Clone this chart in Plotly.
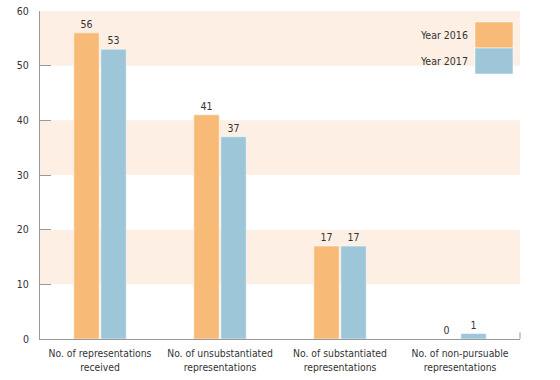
import plotly.graph_objects as go

categories = ["No. of representations<br>received", "No. of unsubstantiated<br>representations",
              "No. of substantiated<br>representations", "No. of non-pursuable<br>representations"]
series_names = ["Year 2016", "Year 2017"]
values_2016 = [56, 41, 17, 0]
values_2017 = [53, 37, 17, 1]
y_ticks = [0, 10, 20, 30, 40, 50, 60]
band_ranges = [(10, 20), (30, 40), (50, 60)]

colors = ["#f7bb77", "#9dc7d9"]
font_family = "DejaVu Sans Condensed, Liberation Sans Narrow, Roboto, sans-serif"
text_color = "#333333"
fs = 10

fig = go.Figure()
for name, vals, col in zip(series_names, [values_2016, values_2017], colors):
    fig.add_trace(go.Bar(
        x=categories, y=vals, name=name, marker=dict(color=col, line=dict(color="white", width=0.5)),
        text=[str(v) for v in vals], textposition="outside", cliponaxis=False,
        textfont=dict(size=fs + 0.5, color=text_color, family=font_family),
        showlegend=False,
    ))

shapes = []
for lo, hi in band_ranges:
    shapes.append(dict(type="rect", xref="paper", yref="y", x0=0, x1=1, y0=lo, y1=hi,
                       fillcolor="#fdefe3", line=dict(width=0), layer="below"))
# right end tick on x axis
shapes.append(dict(type="line", xref="paper", yref="paper", x0=1, x1=1, y0=0, y1=0.02,
                   line=dict(color="#999999", width=1)))

# legend swatches
leg_x0, leg_x1 = (475 - 40) / 480, (513 - 40) / 480
h_plot = 328
def py(pix):
    return (339 - pix) / h_plot
annotations = []
for i, (name, col) in enumerate(zip(series_names, colors)):
    top = 22 + 26 * i
    shapes.append(dict(type="rect", xref="paper", yref="paper", x0=leg_x0, x1=leg_x1,
                       y0=py(top + 26), y1=py(top), fillcolor=col, line=dict(color="white", width=0.5)))
    annotations.append(dict(xref="paper", yref="paper", x=(470 - 40) / 480, y=py(top + 13),
                            text=name, showarrow=False, xanchor="right", yanchor="middle",
                            font=dict(size=fs + 0.5, color=text_color, family=font_family)))

fig.update_layout(
    width=560, height=380,
    margin=dict(l=40, r=40, t=11, b=41),
    plot_bgcolor="white", paper_bgcolor="white",
    barmode="group", bargap=0.55, bargroupgap=0.06,
    shapes=shapes, annotations=annotations,
    font=dict(family=font_family, color=text_color, size=fs),
    xaxis=dict(showline=True, linecolor="#999999", linewidth=1, ticks="", showgrid=False,
               automargin=False, ticklabelstandoff=5,
               tickfont=dict(size=fs + 0.3, color=text_color, family=font_family)),
    yaxis=dict(range=[0, 60], tickvals=y_ticks, showline=True, linecolor="#999999", linewidth=1,
               ticks="inside", ticklen=11, tickcolor="#999999", showgrid=False, zeroline=False,
               automargin=False,
               tickfont=dict(size=fs + 0.5, color=text_color, family=font_family), ticklabelstandoff=8),
)

fig.write_html("out.html", config={"displayModeBar": False},
               post_script="document.body.style.margin='0';")
